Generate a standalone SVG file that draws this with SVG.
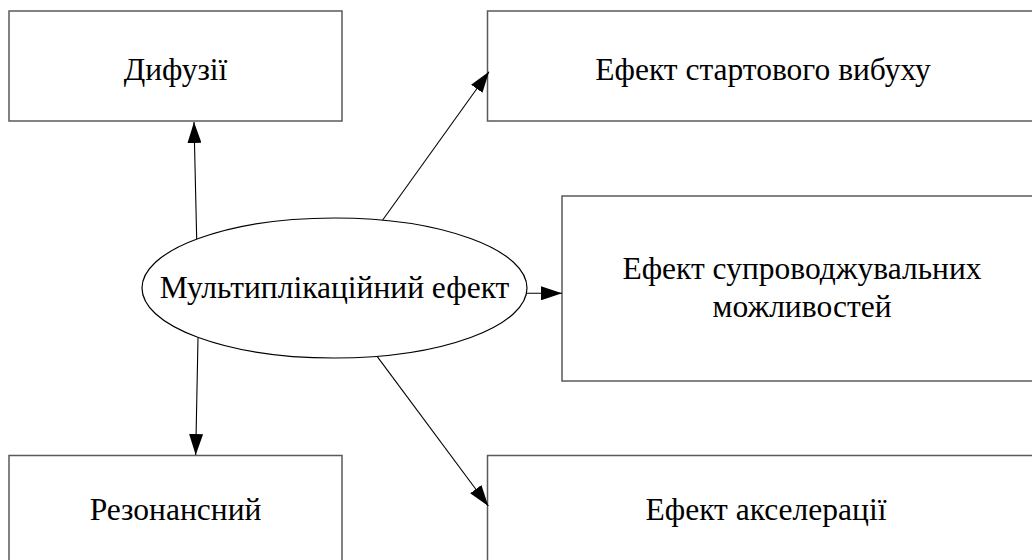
<svg xmlns="http://www.w3.org/2000/svg" width="1032" height="560" viewBox="0 0 1032 560">
  <style>
    .box { fill: #ffffff; stroke: #5a5a5a; stroke-width: 1.5; }
    .hub { fill: #ffffff; stroke: #000000; stroke-width: 1.2; }
    .label { font-family: "Liberation Serif", "Times New Roman", serif; font-size: 31.5px; fill: #000000; text-anchor: middle; }
    .link { stroke: #000000; stroke-width: 1.1; fill: none; marker-end: url(#arrow); }
  </style>
  <defs>
    <marker id="arrow" markerUnits="userSpaceOnUse" markerWidth="22" markerHeight="14" refX="21" refY="7" orient="auto">
      <path d="M0,0 L21,7 L0,14 Z" fill="#000000"/>
    </marker>
  </defs>
  <rect width="1032" height="560" fill="#ffffff"/>

  <g id="node-dyfuzii">
    <rect class="box" x="9" y="11" width="333" height="110"/>
    <text class="label" x="175.5" y="80">Дифузії</text>
  </g>

  <g id="node-startovyi">
    <rect class="box" x="487.5" y="11" width="551" height="110"/>
    <text class="label" x="763" y="80">Ефект стартового вибуху</text>
  </g>

  <g id="node-suprovid">
    <rect class="box" x="562" y="196" width="480" height="185"/>
    <text class="label" x="802" y="279">Ефект супроводжувальних</text>
    <text class="label" x="802" y="317">можливостей</text>
  </g>

  <g id="node-rezonansnyi">
    <rect class="box" x="9" y="455.5" width="333" height="120"/>
    <text class="label" x="175.5" y="520">Резонансний</text>
  </g>

  <g id="node-akseleratsii">
    <rect class="box" x="487.5" y="455.5" width="557" height="120"/>
    <text class="label" x="766" y="520">Ефект акселерації</text>
  </g>

  <g id="node-multyplikator">
    <ellipse class="hub" cx="334.5" cy="288" rx="192.5" ry="70"/>
    <text class="label" x="334.5" y="298">Мультиплікаційний ефект</text>
  </g>

  <g id="connectors">
    <line class="link" x1="196.7" y1="239" x2="194" y2="122"/>
    <line class="link" x1="198" y1="338" x2="195.7" y2="455"/>
    <line class="link" x1="382.7" y1="220" x2="489" y2="71.7"/>
    <line class="link" x1="377.3" y1="356.7" x2="488.3" y2="506"/>
    <line class="link" x1="526" y1="293.3" x2="562" y2="293.3"/>
  </g>
</svg>
